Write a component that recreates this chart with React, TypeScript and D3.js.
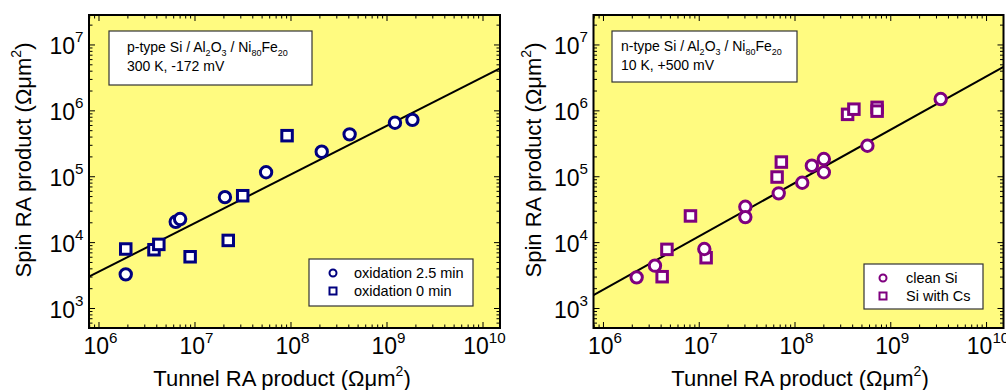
import React from 'react';
import * as d3 from 'd3';

const FONT = "'Liberation Sans', Arial, Helvetica, sans-serif";

// ---- data (Ohm um^2) ----
const leftCircleX = [1.9e6, 6.3e6, 7.0e6, 2.05e7, 5.5e7, 2.09e8, 4.08e8, 1.21e9, 1.84e9];
const leftCircleY = [3.3e3, 2.07e4, 2.28e4, 4.9e4, 1.17e5, 2.4e5, 4.4e5, 6.6e5, 7.3e5];
const leftSquareX = [1.9e6, 3.74e6, 4.2e6, 8.9e6, 2.22e7, 3.14e7, 9.1e7];
const leftSquareY = [8.0e3, 7.8e3, 9.4e3, 6.1e3, 1.08e4, 5.15e4, 4.2e5];

const rightCircleX = [2.22e6, 3.45e6, 1.13e7, 3.03e7, 3.03e7, 6.76e7, 1.19e8, 1.5e8, 2.0e8, 2.0e8, 5.7e8, 3.32e9];
const rightCircleY = [2.97e3, 4.47e3, 8.0e3, 3.5e4, 2.44e4, 5.6e4, 8.1e4, 1.47e5, 1.86e5, 1.17e5, 2.95e5, 1.51e6];
const rightSquareX = [4.1e6, 4.6e6, 8.1e6, 1.18e7, 6.5e7, 7.2e7, 3.54e8, 4.12e8, 7.2e8, 7.2e8];
const rightSquareY = [3.04e3, 7.9e3, 2.54e4, 5.9e3, 9.9e4, 1.67e5, 8.85e5, 1.06e6, 1.13e6, 9.9e5];

// power-law fits: spin = coef * tunnel^exponent
const leftFit = { coef: 0.1343, exponent: 0.7386 };
const rightFit = { coef: 0.0272, exponent: 0.809 };

const xDomain = [7.87e5, 1.503e10];
const yDomain = [506, 2.85e7];
const xMajorExp = [6, 7, 8, 9, 10];
const yMajorExp = [3, 4, 5, 6, 7];

const leftLegend = ['oxidation 2.5 min', 'oxidation 0 min'];
const rightLegend = ['clean Si', 'Si with Cs'];

const TOP = 15;
const BOTTOM = 328;

function Sup({ base, exp, x, y, anchor, size = 23 }: any) {
  return (
    <text x={x} y={y} textAnchor={anchor} fontFamily={FONT} fontSize={size} fill="#000">
      {base}
      <tspan fontSize={size * 0.66} dy={-size * 0.5}>{exp}</tspan>
    </text>
  );
}

function Panel(props: any) {
  const { x0, x1, cx, cy, sx, sy, fit, color, legendLabels, cfg, annotation, id } = props;
  const xs = d3.scaleLog().domain(xDomain).range([x0, x1]);
  const ys = d3.scaleLog().domain(yDomain).range([BOTTOM, TOP]);
  const xt = xs.ticks();
  const yt = ys.ticks();
  const isMajor = (v: number) => Math.abs(Math.log10(v) - Math.round(Math.log10(v))) < 1e-6;
  const fitLine = d3.line<number>().x((d) => xs(d)).y((d) => ys(fit.coef * Math.pow(d, fit.exponent)));
  const clipId = 'clip-' + id;
  const r = 5.7;
  const sq = 10.5;
  return (
    <g>
      <defs>
        <clipPath id={clipId}>
          <rect x={x0} y={TOP} width={x1 - x0} height={BOTTOM - TOP} />
        </clipPath>
      </defs>
      <rect x={x0} y={TOP} width={x1 - x0} height={BOTTOM - TOP} fill="#FFFB80" />
      {/* ticks */}
      {xt.map((v, i) => {
        const L = isMajor(v) ? 6 : 3.5;
        const x = xs(v);
        return (
          <g key={'xt' + i}>
            <line x1={x} x2={x} y1={BOTTOM} y2={BOTTOM - L} stroke="#000" strokeWidth={1} />
            <line x1={x} x2={x} y1={TOP} y2={TOP + L} stroke="#000" strokeWidth={1} />
          </g>
        );
      })}
      {yt.map((v, i) => {
        const L = isMajor(v) ? 6 : 3.5;
        const y = ys(v);
        return (
          <g key={'yt' + i}>
            <line x1={x0} x2={x0 + L} y1={y} y2={y} stroke="#000" strokeWidth={1} />
            <line x1={x1} x2={x1 - L} y1={y} y2={y} stroke="#000" strokeWidth={1} />
          </g>
        );
      })}
      {/* fit */}
      <path d={fitLine(xDomain) || ''} stroke="#000" strokeWidth={2} fill="none" clipPath={`url(#${clipId})`} />
      {/* annotation box */}
      <rect x={cfg.annX} y={cfg.annY} width={cfg.annW} height={cfg.annH} fill="#fff" stroke="#333" strokeWidth={1.2} />
      {annotation}
      {/* legend */}
      <rect x={cfg.legX} y={cfg.legY} width={cfg.legW} height={cfg.legH} fill="#fff" stroke="#333" strokeWidth={1.2} />
      <circle cx={cfg.symX} cy={cfg.legY + 14} r={3.5} fill="#fff" stroke={color} strokeWidth={2} />
      <rect x={cfg.symX - 3.5} y={cfg.legY + 32 - 3.5} width={7} height={7} fill="#fff" stroke={color} strokeWidth={2} />
      <text x={cfg.txtX} y={cfg.legY + 19} fontFamily={FONT} fontSize={14.5}>{legendLabels[0]}</text>
      <text x={cfg.txtX} y={cfg.legY + 37} fontFamily={FONT} fontSize={14.5}>{legendLabels[1]}</text>
      {/* data */}
      <g clipPath={`url(#${clipId})`}>
        {sx.map((v: number, i: number) => (
          <rect key={'s' + i} x={xs(v) - sq / 2} y={ys(sy[i]) - sq / 2} width={sq} height={sq} fill="#fff" stroke={color} strokeWidth={3} />
        ))}
        {cx.map((v: number, i: number) => (
          <circle key={'c' + i} cx={xs(v)} cy={ys(cy[i])} r={r} fill="#fff" stroke={color} strokeWidth={3} />
        ))}
      </g>
      {/* frame */}
      <rect x={x0} y={TOP} width={x1 - x0} height={BOTTOM - TOP} fill="none" stroke="#000" strokeWidth={2} />
      {/* tick labels */}
      {xMajorExp.map((e) => (
        <Sup key={'xl' + e} base="10" exp={String(e)} x={xs(Math.pow(10, e)) + 1.5} y={354} anchor="middle" />
      ))}
      {yMajorExp.map((e) => (
        <Sup key={'yl' + e} base="10" exp={String(e)} x={x0 - 5.5} y={ys(Math.pow(10, e)) + 9} anchor="end" />
      ))}
      {/* axis titles */}
      <text x={cfg.xTitleCx} y={386} textAnchor="middle" fontFamily={FONT} fontSize={22}>
        Tunnel RA product (Ωμm<tspan fontSize={14} dy={-10}>2</tspan><tspan dy={10}>)</tspan>
      </text>
      <text transform={`translate(${cfg.yTitleX},${cfg.yTitleCy}) rotate(-90)`} textAnchor="middle" fontFamily={FONT} fontSize={22}>
        Spin RA product (Ωμm<tspan fontSize={14} dy={-10}>2</tspan><tspan dy={10}>)</tspan>
      </text>
    </g>
  );
}

function Formula({ prefix, x, y }: any) {
  return (
    <text x={x} y={y} fontFamily={FONT} fontSize={14}>
      {prefix} Si / Al<tspan fontSize={9} dy={4}>2</tspan><tspan dy={-4}>O</tspan><tspan fontSize={9} dy={4}>3</tspan>
      <tspan dy={-4}> / Ni</tspan><tspan fontSize={9} dy={4}>80</tspan><tspan dy={-4}>Fe</tspan><tspan fontSize={9} dy={4}>20</tspan>
    </text>
  );
}

export default function App() {
  const leftCfg = {
    annX: 109, annY: 31, annW: 203, annH: 54,
    legX: 309, legY: 259, legW: 164, legH: 47, symX: 333, txtX: 354,
    xTitleCx: 282, yTitleX: 31, yTitleCy: 160,
  };
  const rightCfg = {
    annX: 612, annY: 31, annW: 185, annH: 51,
    legX: 864, legY: 264, legW: 119, legH: 45, symX: 883, txtX: 906,
    xTitleCx: 800, yTitleX: 541, yTitleCy: 160,
  };
  return (
    <svg width={1006} height={390} style={{ position: 'absolute', left: 0, top: 0, background: '#fff' }}>
      <Panel
        id="l" x0={89} x1={500}
        cx={leftCircleX} cy={leftCircleY} sx={leftSquareX} sy={leftSquareY}
        fit={leftFit} color="#00007F" legendLabels={leftLegend} cfg={leftCfg}
        annotation={
          <g>
            <Formula prefix="p-type" x={127} y={52} />
            <text x={127} y={71} fontFamily={FONT} fontSize={14}>300 K, -172 mV</text>
          </g>
        }
      />
      <Panel
        id="r" x0={593.5} x1={1003.5}
        cx={rightCircleX} cy={rightCircleY} sx={rightSquareX} sy={rightSquareY}
        fit={rightFit} color="#7F007F" legendLabels={rightLegend} cfg={rightCfg}
        annotation={
          <g>
            <Formula prefix="n-type" x={621} y={51} />
            <text x={621} y={70} fontFamily={FONT} fontSize={14}>10 K, +500 mV</text>
          </g>
        }
      />
    </svg>
  );
}
